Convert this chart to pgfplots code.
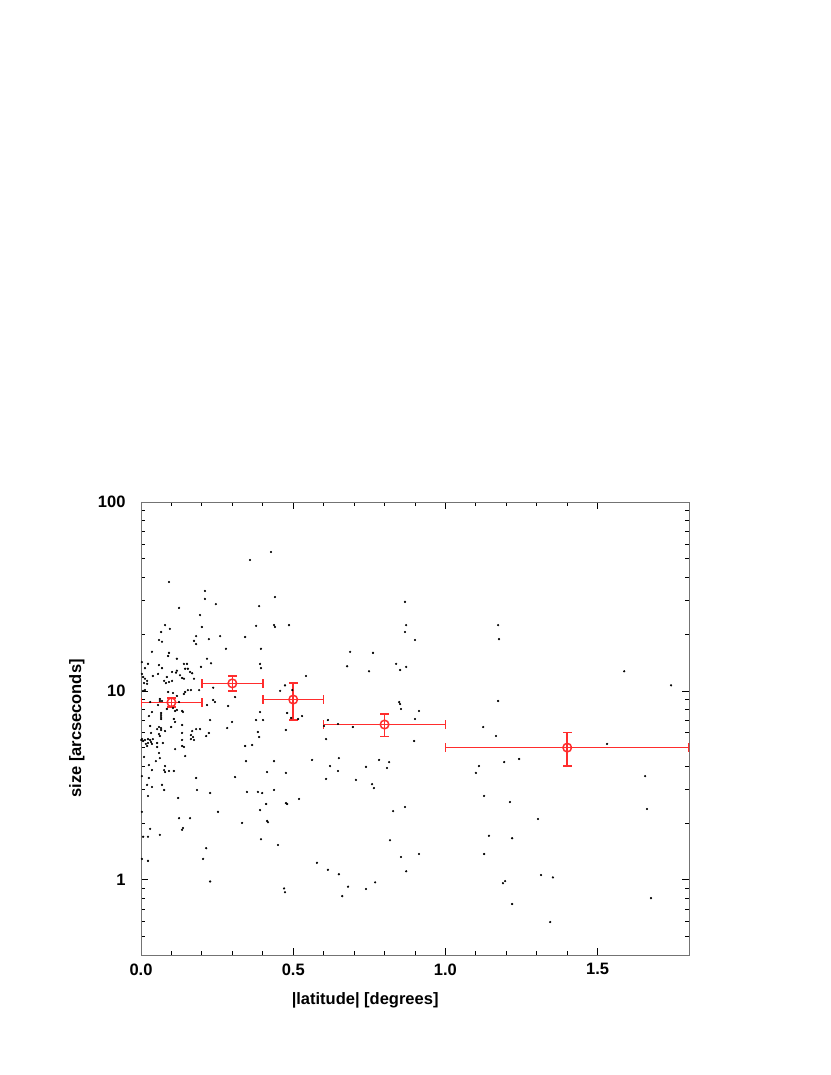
\documentclass[border=0pt]{standalone}
\usepackage{fontspec}
\setmainfont{Liberation Sans}
\usepackage{pgfplots}
\pgfplotsset{compat=1.18}
\definecolor{errred}{RGB}{255,45,45}
\begin{document}
\begin{tikzpicture}
\path[use as bounding box] (0,0) rectangle (830pt,1075pt);
\begin{axis}[
 at={(141pt,120pt)},anchor=south west,
 scale only axis,width=548pt,height=453pt,
 xmin=0,xmax=1.8,ymin=0.4,ymax=100,
 ymode=log,
 xtick={0,0.5,1,1.5},minor x tick num=4,
 log ticks with fixed point,
 tick align=inside,tick pos=both,
 major tick length=7pt,minor tick length=4pt,
 axis line style={black!55,line width=0.8pt},
 every tick/.style={black,line width=0.8pt},
 /pgf/number format/assume math mode=true,
 tick label style={font=\fontsize{16.5}{19}\selectfont\bfseries},
 xticklabel style={/pgf/number format/.cd,fixed,fixed zerofill,precision=1,/tikz/.cd,yshift=-5pt},
 yticklabel style={xshift=-12pt},
 label style={font=\fontsize{16.5}{19}\selectfont\bfseries},
 xlabel={|latitude| [degrees]},
 ylabel={size [arcseconds]},
 xlabel style={at={(axis description cs:0.409,0)},anchor=center,yshift=-45pt},
 ylabel style={at={(axis description cs:-0.117,0.5)},anchor=center},
]
\addplot[only marks,mark=*,mark size=0.9pt,black] coordinates {
(0.092,37.7) (0.125,27.5) (0.210,33.8) (0.210,30.7) (0.246,28.8) (0.194,25.2)
(0.200,21.8) (0.079,22.3) (0.095,21.3) (0.066,20.5) (0.059,18.6) (0.069,18.2)
(0.174,18.4) (0.181,17.7) (0.181,19.5) (0.223,18.8) (0.260,19.5) (0.279,16.7)
(0.342,19.3) (0.358,49.3) (0.427,54.4) (0.440,31.4) (0.388,28.1) (0.378,22.1)
(0.437,22.3) (0.440,21.8) (0.486,22.3) (0.394,16.7) (0.867,29.6) (0.871,22.3)
(0.867,20.5) (0.900,18.6) (0.036,16.1) (0.092,15.9) (0.089,15.3) (0.118,14.8)
(0.217,14.8) (0.230,14.0) (0.003,14.2) (0.023,13.9) (0.013,13.2) (0.059,13.7)
(0.141,13.9) (0.151,13.9) (0.145,13.1) (0.154,13.1) (0.161,12.6) (0.102,12.6)
(0.118,12.8) (0.115,12.5) (0.197,13.4) (0.391,13.9) (0.394,13.2) (0.069,13.2)
(0.056,12.3) (0.039,12.0) (0.003,12.3) (0.007,11.85) (0.085,11.85) (0.092,11.15)
(0.076,11.3) (0.082,11.0) (0.102,11.3) (0.128,12.1) (0.135,11.7) (0.141,11.6)
(0.168,12.4) (0.174,11.6) (0.013,11.6) (0.020,11.3) (0.010,11.0) (0.020,10.9)
(0.013,10.1) (0.007,10.0) (0.089,9.87) (0.105,9.75) (0.141,9.63) (0.145,9.87)
(0.154,10.1) (0.164,10.1) (0.191,10.1) (0.237,10.4) (0.118,9.4) (0.062,9.06)
(0.069,8.84) (0.062,8.84) (0.030,8.73) (0.125,8.73) (0.056,8.42) (0.217,8.42)
(0.237,8.95) (0.243,8.73) (0.286,8.32) (0.309,9.28) (0.085,8.02) (0.105,8.12)
(0.112,7.83) (0.118,7.93) (0.135,7.83) (0.138,7.73) (0.036,7.73) (0.066,7.64)
(0.066,7.45) (0.066,7.27) (0.066,7.10) (0.026,7.36) (0.108,7.10) (0.112,6.85)
(0.227,7.01) (0.299,6.85) (0.378,7.01) (0.401,7.01) (0.391,7.73) (0.135,6.60)
(0.099,6.44) (0.059,6.44) (0.066,6.36) (0.053,6.28) (0.066,6.21) (0.030,6.52)
(0.079,6.13) (0.181,6.28) (0.194,6.28) (0.168,6.13) (0.223,5.99) (0.214,5.77)
(0.135,5.99) (0.033,5.99) (0.283,6.36) (0.384,6.06) (0.388,5.70) (0.476,6.21)
(0.059,5.91) (0.062,5.77) (0.164,5.84) (0.171,5.70) (0.164,5.56) (0.174,5.50)
(0.003,5.56) (0.001,5.50) (0.007,5.43) (0.013,5.50) (0.023,5.56) (0.030,5.50)
(0.039,5.56) (0.033,5.36) (0.016,5.24) (0.023,5.30) (0.020,5.11) (0.036,5.24)
(0.053,5.30) (0.053,5.05) (0.072,5.30) (0.135,5.50) (0.135,5.11) (0.112,4.92)
(0.141,5.05) (0.342,5.11) (0.365,5.17) (0.059,4.69) (0.062,4.41) (0.010,4.47)
(0.145,4.52) (0.345,4.25) (0.437,4.25) (0.026,4.05) (0.079,4.00) (0.049,4.25)
(0.076,3.81) (0.079,3.72) (0.092,3.77) (0.108,3.77) (0.036,3.81) (0.414,3.72)
(0.476,3.68) (0.003,3.54) (0.026,3.46) (0.181,3.46) (0.309,3.50) (0.020,3.18)
(0.036,3.10) (0.069,3.18) (0.076,2.99) (0.122,2.71) (0.023,2.78) (0.227,2.88)
(0.348,2.92) (0.384,2.92) (0.398,2.88) (0.437,2.99) (0.473,10.7) (0.457,10.0)
(0.497,10.1) (0.687,16.1) (0.762,15.9) (0.677,13.5) (0.749,12.7) (0.838,13.9)
(0.871,13.4) (0.851,12.9) (0.542,12.0) (0.480,7.64) (0.493,7.19) (0.516,7.10)
(0.529,7.36) (0.614,7.01) (0.601,6.52) (0.647,6.68) (0.696,6.44) (0.608,5.56)
(0.848,8.73) (0.851,8.52) (0.854,8.02) (0.913,7.83) (0.900,7.10) (0.897,5.43)
(0.562,4.31) (0.650,4.41) (0.621,4.00) (0.647,3.77) (0.739,3.96) (0.782,4.31)
(0.815,4.20) (0.808,3.91) (0.608,3.42) (0.706,3.38) (0.759,3.21) (0.765,3.06)
(0.519,2.68) (0.184,2.99) (0.003,2.29) (0.253,2.29) (0.125,2.12) (0.161,2.12)
(0.411,2.52) (0.391,2.34) (0.476,2.55) (0.480,2.52) (0.030,1.86) (0.138,1.88)
(0.135,1.84) (0.414,2.05) (0.417,2.02) (0.332,2.00) (0.062,1.73) (0.007,1.69)
(0.023,1.69) (0.394,1.64) (0.450,1.53) (0.214,1.47) (0.204,1.29) (0.003,1.29)
(0.023,1.26) (0.227,0.98) (0.470,0.90) (0.473,0.86) (0.828,2.31) (0.867,2.43)
(0.818,1.62) (0.854,1.32) (0.913,1.37) (0.871,1.11) (0.578,1.23) (0.614,1.13)
(0.650,1.07) (0.680,0.92) (0.661,0.82) (0.739,0.894) (0.769,0.97)
(1.173,22.3) (1.176,18.8) (1.173,8.84) (1.124,6.44) (1.166,5.77) (1.587,12.7)
(1.741,10.7) (1.531,5.24) (1.110,4.00) (1.193,4.20) (1.242,4.36) (1.100,3.68)
(1.127,2.78) (1.212,2.58) (1.304,2.10) (1.143,1.71) (1.219,1.66) (1.127,1.37)
(1.189,0.96) (1.196,0.985) (1.314,1.06) (1.353,1.03) (1.219,0.745) (1.344,0.598)
(1.656,3.54) (1.662,2.37) (1.675,0.80)
};
% binned means with errors
\addplot[only marks,mark=o,mark size=4.3pt,color=errred,line width=1.5pt,
 mark options={draw=errred,fill=white,solid,line width=1.5pt},
 error bars/.cd,x dir=both,x explicit,y dir=both,y explicit,
 error bar style={draw=errred,line width=1.5pt,solid},
 error mark options={draw=errred,line width=1.5pt,mark size=4.3pt,rotate=90}]
coordinates {
(0.1,8.7) +- (0.1,0.5)
(0.3,10.96) +- (0.1,1.0)
(0.5,9.0) +- (0.1,2.0)
(0.8,6.64) +- (0.2,0.9)
(1.4,5.01) +- (0.4,1.0)
};
\end{axis}
\end{tikzpicture}
\end{document}
